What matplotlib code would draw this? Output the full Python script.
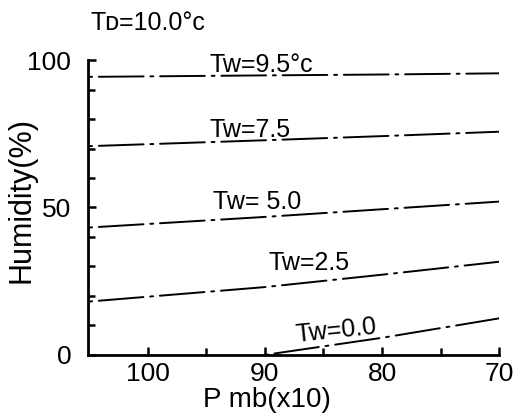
import matplotlib
matplotlib.use("Agg")
import matplotlib.pyplot as plt

# ---- data ----
pressure = [105, 90, 80, 70]
tw95 = [94.3, 94.8, 95.1, 95.5]
tw75 = [70.8, 72.8, 74.2, 75.7]
tw50 = [43.2, 46.8, 49.4, 52.0]
tw25 = [18.1, 23.0, 27.2, 31.6]
pressure0 = [90, 80, 70]
tw00 = [0.0, 5.8, 12.4]

series = [(pressure, tw95), (pressure, tw75), (pressure, tw50), (pressure, tw25), (pressure0, tw00)]
labels = ["Tw=9.5°c", "Tw=7.5", "Tw= 5.0", "Tw=2.5", "Tw=0.0"]
label_pos = [(94.7, 95.9), (94.7, 73.9), (94.4, 49.6), (89.7, 28.8), (87.3, 4.3)]
label_rot = [0, 0, 0, 0, 6]

xticks_major = [100, 90, 80, 70]
xticks_minor = [95, 85, 75]
yticks_major = [0, 50, 100]
yticks_minor = [10, 20, 30, 40, 60, 70, 80, 90]

plt.rcParams['font.family'] = ["Liberation Sans", "DejaVu Sans"]

fig = plt.figure(figsize=(5.16, 4.2), dpi=100)
ax = fig.add_axes([0.1705, 0.155, 0.797, 0.702])

ls = (0, (1.5, 3.5, 23, 3.5))
for xs, ys in series:
    ax.plot(xs, ys, color="black", lw=1.4, linestyle=ls, dash_capstyle="round")

for t, (x, y), r in zip(labels, label_pos, label_rot):
    ax.text(x, y, t, fontsize=18, ha="left", va="baseline", rotation=r,
            rotation_mode="anchor")

ax.set_xlim(105.1, 70)
ax.set_ylim(0, 100)
ax.set_xticks(xticks_major)
ax.set_xticks(xticks_minor, minor=True)
ax.set_yticks(yticks_major)
ax.set_yticks(yticks_minor, minor=True)
ax.tick_params(axis="both", which="both", direction="in", width=1.8, colors="black")
ax.tick_params(axis="both", which="major", length=6, labelsize=19)
ax.tick_params(axis="both", which="minor", length=5)
ax.tick_params(axis="y", which="major", pad=12)
ax.tick_params(axis="x", which="major", pad=5)
for s in ["top", "right"]:
    ax.spines[s].set_visible(False)
for s in ["left", "bottom"]:
    ax.spines[s].set_linewidth(2)

ax.set_ylabel("Humidity(%)", fontsize=22)
ax.yaxis.set_label_coords(-0.125, 0.525)
ax.set_xlabel("P mb(x10)", fontsize=20)
ax.xaxis.set_label_coords(0.436, -0.11)

fig.text(0.175, 0.929, "Tᴅ=10.0°c", fontsize=18, ha="left", va="baseline")

fig.savefig("out.png", dpi=100)
